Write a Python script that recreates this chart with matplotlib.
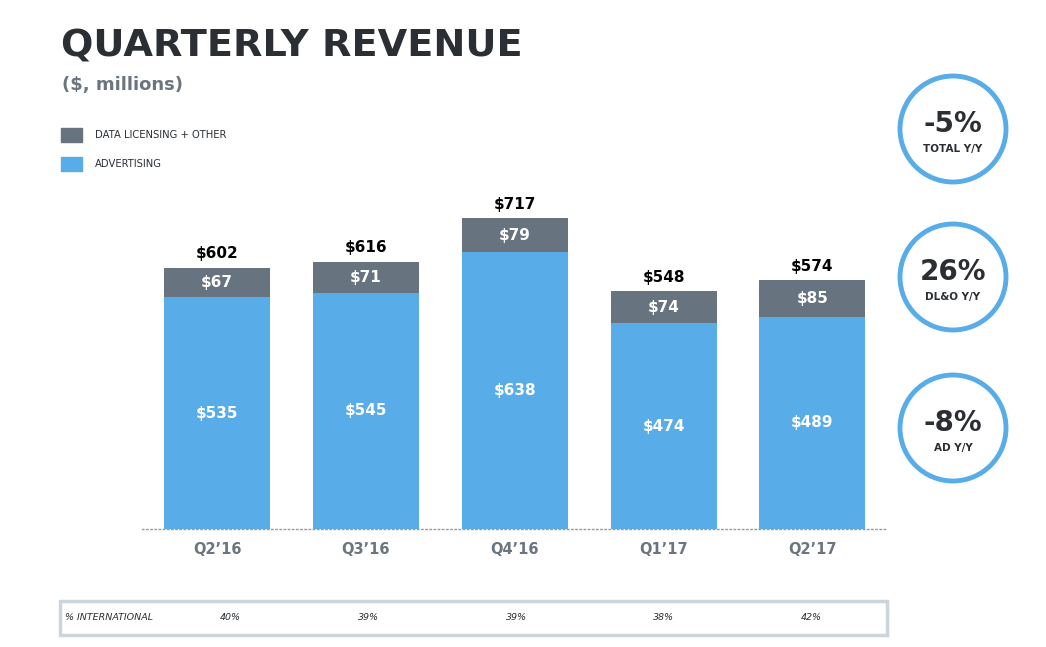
import matplotlib
matplotlib.use("Agg")
import matplotlib.pyplot as plt
from matplotlib.patches import Circle, Rectangle

quarters = ["Q2’16", "Q3’16", "Q4’16", "Q1’17", "Q2’17"]
advertising = [535, 545, 638, 474, 489]
data_licensing = [67, 71, 79, 74, 85]
totals = [602, 616, 717, 548, 574]
pct_international = ["40%", "39%", "39%", "38%", "42%"]
yoy_values = ["-5%", "26%", "-8%"]
yoy_labels = ["TOTAL Y/Y", "DL&O Y/Y", "AD Y/Y"]

BLUE = "#58ACE8"
GRAY = "#67737E"
DARK = "#2B2F33"
MID = "#6B7580"

W, H = 1046, 647
fig = plt.figure(figsize=(W / 100, H / 100), dpi=100)

# overlay axes in pixel coordinates for annotations
ov = fig.add_axes([0, 0, 1, 1])
ov.set_xlim(0, W)
ov.set_ylim(H, 0)
ov.axis("off")

# bar axes: baseline at y=529px, x from 142 to 886px
scale = 0.4336  # px per $M
ymax = 800
ax_bottom = 1 - 529 / H
ax_height = ymax * scale / H
ax = fig.add_axes([142 / W, ax_bottom, (886 - 142) / W, ax_height])
ax.patch.set_alpha(0)
x = list(range(len(quarters)))
ax.set_xlim(-0.504, 4.494)
ax.set_ylim(0, ymax)
width = 0.712
ax.bar(x, advertising, width, color=BLUE, zorder=2)
ax.bar(x, data_licensing, width, bottom=advertising, color=GRAY, zorder=2)
for s in ["top", "right", "left"]:
    ax.spines[s].set_visible(False)
ax.spines["bottom"].set_linestyle((0, (1, 2)))
ax.spines["bottom"].set_color("#9A9A9A")
ax.spines["bottom"].set_linewidth(1)
ax.set_yticks([])
ax.set_xticks(x)
ax.set_xticklabels(quarters, fontsize=10.5, fontweight="bold", color=MID)
ax.tick_params(axis="x", length=0, pad=9)

for i in x:
    ax.text(i, advertising[i] / 2, "$%d" % advertising[i], ha="center", va="center",
            color="white", fontsize=11, fontweight="bold")
    ax.text(i, advertising[i] + data_licensing[i] / 2, "$%d" % data_licensing[i],
            ha="center", va="center", color="white", fontsize=11, fontweight="bold")
    ax.text(i, totals[i] + 14 / scale, "$%d" % totals[i], ha="center", va="center",
            color="black", fontsize=11, fontweight="bold")

# title
ov.text(61, 47, "QUARTERLY REVENUE", fontsize=27.5, fontweight="bold", color=DARK,
        va="center", ha="left")
ov.text(62, 85, "($, millions)", fontsize=13, fontweight="bold", color=MID,
        va="center", ha="left")

# legend
ov.add_patch(Rectangle((61, 128), 21, 14, color=GRAY))
ov.text(95, 135, "DATA LICENSING + OTHER", fontsize=7.2, color=DARK, va="center")
ov.add_patch(Rectangle((61, 157), 21, 14, color=BLUE))
ov.text(95, 164, "ADVERTISING", fontsize=7.2, color=DARK, va="center")

# yoy circles
for cy, val, lab in zip([129, 277, 428], yoy_values, yoy_labels):
    ov.add_patch(Circle((953, cy), 53, fill=False, edgecolor=BLUE, linewidth=3.5))
    ov.text(953, cy - 5, val, fontsize=20, fontweight="bold", color=DARK,
            ha="center", va="center")
    ov.text(953, cy + 20, lab, fontsize=7.5, fontweight="bold", color=DARK,
            ha="center", va="center")

# international table
ov.add_patch(Rectangle((60, 601), 827, 34, fill=False, edgecolor="#CDD5DC",
                       linewidth=2.5))
ov.text(65, 618, "% INTERNATIONAL", fontsize=6.8, style="italic", color=DARK,
        va="center")
for px, v in zip([230, 368, 516, 663, 811], pct_international):
    ov.text(px, 618, v, fontsize=6.8, style="italic", color=DARK, va="center",
            ha="center")

fig.savefig("out.png", dpi=100)
